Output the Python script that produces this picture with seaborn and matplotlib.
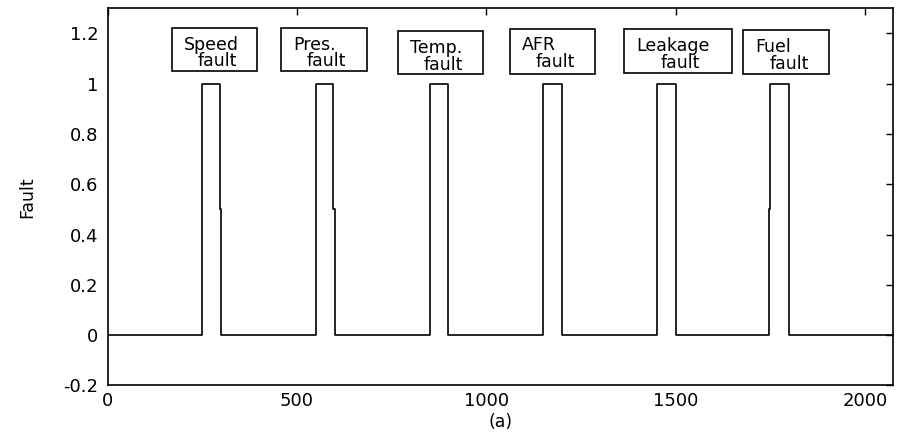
import matplotlib
matplotlib.use("Agg")
import matplotlib.pyplot as plt
from matplotlib.patches import Rectangle
import seaborn as sns
import pandas as pd

# data
time = [0, 250, 250, 296, 296, 300, 300, 550, 550, 596, 596, 600, 600,
        850, 850, 900, 900, 1150, 1150, 1200, 1200, 1450, 1450, 1500, 1500,
        1746, 1746, 1750, 1750, 1800, 1800, 2073]
fault = [0, 0, 1, 1, 0.5, 0.5, 0, 0, 1, 1, 0.5, 0.5, 0,
         0, 1, 1, 0, 0, 1, 1, 0, 0, 1, 1, 0,
         0, 0.5, 0.5, 1, 1, 0, 0]
label_first = ["Speed", "Pres.", "Temp.", "AFR", "Leakage", "Fuel"]
label_second = ["fault", "fault", "fault", "fault", "fault", "fault"]
xticks = [0, 500, 1000, 1500, 2000]
yticks = [-0.2, 0, 0.2, 0.4, 0.6, 0.8, 1, 1.2]
ytick_labels = ["-0.2", "0", "0.2", "0.4", "0.6", "0.8", "1", "1.2"]

# annotation box layout (data coordinates)
box_left = [169, 457, 767, 1062, 1363, 1678]
box_right = [394, 684, 992, 1287, 1648, 1905]
box_bottom = [1.052, 1.052, 1.039, 1.039, 1.043, 1.039]
box_top = [1.222, 1.222, 1.208, 1.219, 1.216, 1.212]

sns.set_style("white")
plt.rcParams['font.family'] = ['DejaVu Sans']
plt.rcParams['text.color'] = 'black'

df = pd.DataFrame({"t": time, "Fault": fault})
fig = plt.figure(figsize=(8.97, 4.37), dpi=100)
ax = fig.add_axes([0.1200, 0.1183, 0.8752, 0.8627])
sns.lineplot(data=df, x="t", y="Fault", estimator=None, sort=False, color="black", lw=1.2, ax=ax)

ax.set_xlim(0, 2073)
ax.set_ylim(-0.2, 1.3)
ax.set_xticks(xticks)
ax.set_xticklabels([str(v) for v in xticks])
ax.set_yticks(yticks)
ax.set_yticklabels(ytick_labels)
ax.tick_params(direction="in", length=5, width=1, top=True, right=True, labelsize=13,
               colors="black")
ax.tick_params(axis="x", pad=5)
ax.tick_params(axis="y", pad=6.5)
for s in ax.spines.values():
    s.set_color("black")
    s.set_linewidth(1.2)
ax.set_xlabel("(a)", fontsize=12.5, labelpad=2, color="black")
ax.set_ylabel("Fault", fontsize=12.5, labelpad=20, color="black")

for l1, l2, x0, x1, y0, y1 in zip(label_first, label_second, box_left, box_right,
                                  box_bottom, box_top):
    ax.add_patch(Rectangle((x0, y0), x1 - x0, y1 - y0, fc="white",
                           ec="black", lw=1.2, zorder=3))
    ax.text(x0 + 32, y1 - 0.086, l1, ha="left", va="baseline",
            fontsize=12.5, color="black", zorder=4)
    ax.text((x0 + x1) / 2 + 8, y1 - 0.152, l2, ha="center", va="baseline",
            fontsize=12.5, color="black", zorder=4)

fig.savefig("out.png", dpi=100)
